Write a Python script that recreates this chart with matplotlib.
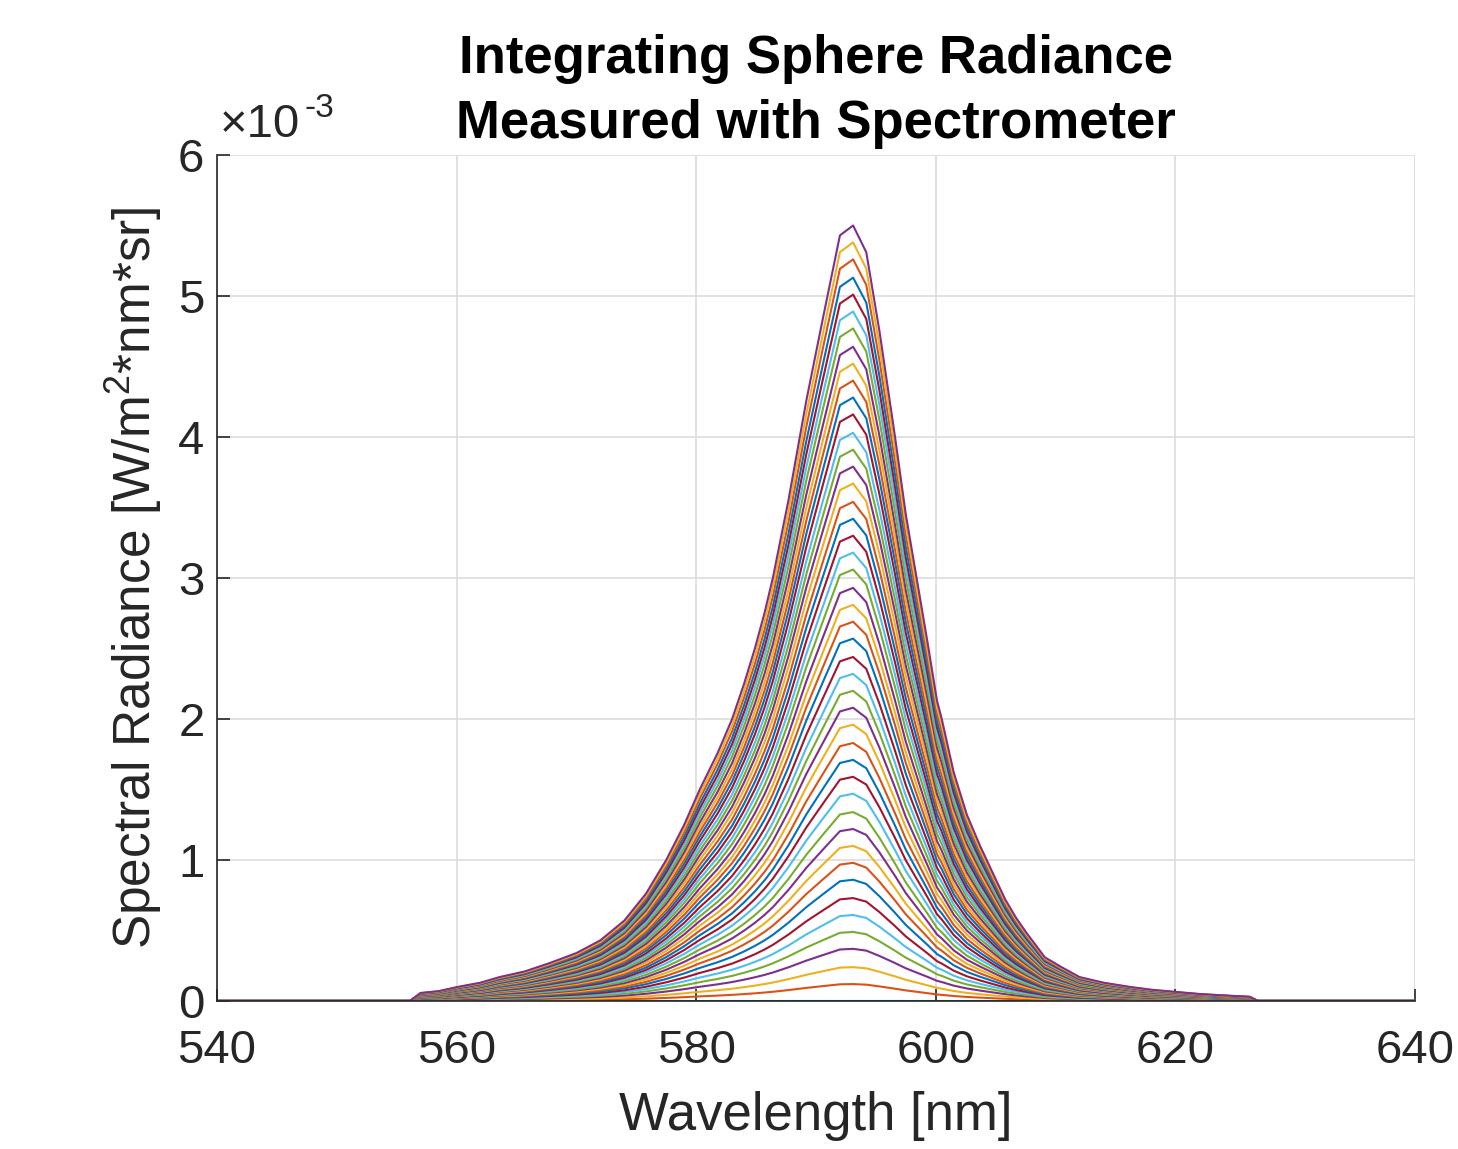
import numpy as np
import matplotlib.pyplot as plt

plt.rcParams['font.family'] = ['Liberation Sans', 'DejaVu Sans']
plt.rcParams['mathtext.default'] = 'regular'

# Top (brightest) spectrum: wavelength (nm), radiance (x1e-3)
wavelength = [540.0, 556.1, 557.0, 558.5, 560.1, 562.0, 563.6, 565.7, 567.8,
              570.0, 572.0, 574.0, 575.8, 577.5, 579.0, 580.3, 581.8, 583.0,
              584.0, 584.9, 585.7, 586.4, 587.7, 589.2, 590.6, 592.0, 593.1,
              594.2, 595.3, 596.6, 597.5, 598.4, 599.3, 600.1, 600.5, 601.5,
              602.6, 603.7, 604.8, 605.8, 606.7, 607.6, 608.4, 609.1, 610.5,
              612.0, 614.0, 616.2, 618.0, 620.1, 622.0, 624.0, 626.2, 626.9,
              640.0]
top_spectrum = [0.0, 0.0, 0.057, 0.07, 0.10, 0.13, 0.17, 0.21, 0.27,
                0.34, 0.43, 0.57, 0.76, 1.00, 1.25, 1.50, 1.76, 2.00,
                2.25, 2.50, 2.75, 3.00, 3.55, 4.26, 4.85, 5.43, 5.50,
                5.31, 4.75, 4.00, 3.45, 3.00, 2.55, 2.13, 2.00, 1.62,
                1.32, 1.10, 0.90, 0.72, 0.59, 0.48, 0.39, 0.31, 0.24,
                0.17, 0.13, 0.10, 0.08, 0.064, 0.05, 0.04, 0.03, 0.0,
                0.0]

# Peak radiance of each of the 46 measurements (x1e-3)
peaks = [0.00, 0.12, 0.24, 0.37, 0.49, 0.61, 0.73, 0.86, 0.98, 1.10,
         1.22, 1.34, 1.47, 1.59, 1.71, 1.83, 1.96, 2.08, 2.20, 2.32,
         2.44, 2.57, 2.69, 2.81, 2.93, 3.06, 3.18, 3.30, 3.42, 3.54,
         3.67, 3.79, 3.91, 4.03, 4.16, 4.28, 4.40, 4.52, 4.64, 4.77,
         4.89, 5.01, 5.13, 5.26, 5.38, 5.50]

matlab_colors = ['#0072BD', '#D95319', '#EDB120', '#7E2F8E',
                 '#77AC30', '#4DBEEE', '#A2142F']

wl = np.array(wavelength)
spec = np.array(top_spectrum)

fig = plt.figure(figsize=(14.58, 11.49), dpi=100)
ax = fig.add_axes([0.1488, 0.1288, 0.8217, 0.7363])

for i, p in enumerate(peaks):
    ax.plot(wl, spec * p / peaks[-1] * 1e-3,
            color=matlab_colors[i % 7], lw=1.5)

ax.set_xlim(540, 640)
ax.set_ylim(0, 6e-3)
ax.set_xticks([540, 560, 580, 600, 620, 640])
ax.set_yticks(np.arange(0, 7) * 1e-3)
ax.set_yticklabels([str(v) for v in range(7)])

# matlab look: box off, inward ticks, light grid
for s in ['top', 'right']:
    ax.spines[s].set_visible(False)
for s in ['left', 'bottom']:
    ax.spines[s].set_color('#262626')
    ax.spines[s].set_linewidth(1.2)
ax.tick_params(direction='in', length=9, width=1.2, colors='#262626',
               labelsize=34)
ax.tick_params(axis='x', pad=20)
ax.tick_params(axis='y', pad=9)
ax.grid(True, color='#dcdcdc', lw=1.2)
ax.set_axisbelow(True)

# exponent label like matlab's
ax.annotate('\u00d710', xy=(0, 1), xycoords='axes fraction',
            xytext=(2, 6), textcoords='offset points',
            fontsize=34, color='#262626', ha='left', va='bottom')
ax.annotate('-3', xy=(0, 1), xycoords='axes fraction',
            xytext=(63, 22), textcoords='offset points',
            fontsize=24, color='#262626', ha='left', va='bottom')

ax.set_xlabel('Wavelength [nm]', fontsize=38, color='#262626', labelpad=13)
ax.set_ylabel(r'Spectral Radiance [W/m$^2$*nm*sr]', fontsize=37,
              color='#262626', labelpad=10)
ax.set_title('Integrating Sphere Radiance\nMeasured with Spectrometer',
             fontsize=38, fontweight='bold', pad=12, linespacing=1.4)

fig.savefig('out.png', dpi=100)
